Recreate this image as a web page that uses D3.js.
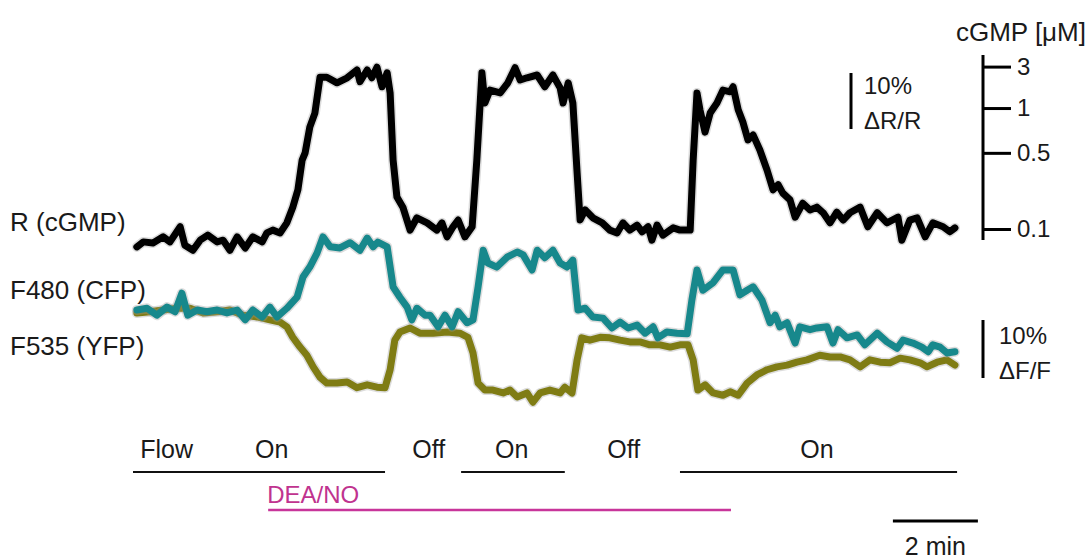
<!DOCTYPE html>
<html>
<head>
<meta charset="utf-8">
<script src="https://cdn.jsdelivr.net/npm/d3@7"></script>
<style>
  html, body { margin: 0; padding: 0; background: #fff; }
  svg { display: block; }
  text { font-family: "Liberation Sans", Arial, Helvetica, sans-serif; fill: #1a1a1a; }
</style>
</head>
<body>
<svg id="chart" width="1091" height="559"></svg>
<script>
// Time in minutes, ratio change ΔR/R in percent
const rTrace = [
  [0.09,-0.7],[0.24,0.2],[0.47,0.0],[0.71,1.1],[0.87,0.2],[1.11,2.9],[1.22,-0.4],[1.41,-1.3],
  [1.58,0.5],[1.76,1.4],[1.98,0.2],[2.12,0.5],[2.28,-1.3],[2.45,1.1],[2.64,-0.9],[2.82,1.1],
  [3.04,0.2],[3.15,1.8],[3.29,2.3],[3.46,1.8],[3.62,3.6],[3.76,6.4],[3.88,9.5],[3.98,14.8],
  [4.05,16.1],[4.16,20.7],[4.28,23.2],[4.40,29.6],[4.56,29.6],[4.80,28.6],[5.04,29.5],[5.27,30.9],
  [5.34,28.8],[5.51,30.9],[5.62,29.5],[5.74,31.4],[5.86,27.9],[5.98,30.4],[6.05,26.8],[6.12,14.8],
  [6.21,8.2],[6.35,6.4],[6.52,2.3],[6.68,4.5],[6.92,3.6],[7.15,2.3],[7.27,3.6],[7.39,1.1],
  [7.53,2.9],[7.65,4.1],[7.81,1.1],[7.98,2.9],[8.09,14.8],[8.21,30.4],[8.28,25.0],[8.40,27.3],
  [8.64,26.8],[8.82,28.6],[8.99,31.3],[9.11,29.1],[9.27,29.5],[9.51,30.0],[9.69,27.9],[9.88,30.0],
  [10.05,27.7],[10.12,25.0],[10.24,28.6],[10.35,25.0],[10.45,12.5],[10.52,4.1],[10.64,5.9],[10.82,4.5],
  [11.04,3.6],[11.22,2.3],[11.39,1.8],[11.53,3.6],[11.69,2.3],[11.86,3.2],[11.98,2.0],[12.12,2.9],
  [12.21,0.5],[12.33,3.2],[12.47,1.4],[12.71,2.7],[12.87,2.3],[13.11,2.3],[13.18,14.8],[13.27,26.8],
  [13.34,23.8],[13.46,19.8],[13.58,23.2],[13.74,25.0],[13.88,27.3],[14.05,27.0],[14.12,27.9],[14.24,23.8],
  [14.35,21.6],[14.47,18.4],[14.59,19.3],[14.75,16.6],[14.92,13.0],[15.06,9.5],[15.18,10.4],[15.29,8.9],
  [15.46,7.7],[15.58,4.6],[15.76,7.1],[15.93,5.9],[16.09,6.4],[16.24,5.4],[16.40,3.6],[16.56,5.5],
  [16.71,4.1],[16.87,5.4],[17.11,6.4],[17.29,2.9],[17.51,5.4],[17.74,3.6],[18.00,4.6],[18.09,0.5],
  [18.28,4.1],[18.45,4.5],[18.64,1.1],[18.82,3.6],[19.06,2.9],[19.22,2.0],[19.34,2.7]
];

// CFP emission (480 nm), ΔF/F in percent
const cfpTrace = [
  [0.09,0.0],[0.33,0.3],[0.56,-0.9],[0.80,0.5],[0.99,-0.3],[1.15,2.9],[1.29,-0.9],[1.51,0.0],
  [1.74,-0.3],[1.98,0.0],[2.21,-0.5],[2.45,0.0],[2.64,-1.7],[2.82,0.0],[3.04,-1.2],[3.22,0.5],
  [3.39,-1.2],[3.62,0.3],[3.86,2.2],[4.00,5.7],[4.16,7.4],[4.33,9.8],[4.47,12.6],[4.64,10.9],
  [4.87,10.7],[5.11,11.6],[5.34,10.3],[5.51,12.4],[5.65,10.9],[5.76,11.7],[5.98,10.9],[6.12,4.0],
  [6.28,2.2],[6.45,0.5],[6.56,-1.7],[6.68,0.3],[6.87,-0.9],[6.99,-0.9],[7.18,-2.9],[7.34,-0.9],
  [7.51,-2.9],[7.65,-0.3],[7.86,-2.2],[8.00,-1.7],[8.12,4.0],[8.24,10.3],[8.35,8.1],[8.56,7.4],
  [8.80,9.1],[9.04,10.0],[9.18,9.5],[9.39,6.9],[9.51,10.3],[9.69,9.0],[9.88,10.3],[10.05,8.1],
  [10.21,7.4],[10.35,8.6],[10.47,0.0],[10.64,0.3],[10.82,-1.2],[11.06,-1.4],[11.27,-3.1],[11.46,-2.1],
  [11.65,-3.1],[11.86,-2.6],[12.05,-4.0],[12.24,-2.9],[12.35,-4.8],[12.56,-3.8],[12.80,-4.0],[13.04,-4.1],
  [13.15,1.7],[13.27,6.9],[13.41,3.4],[13.65,4.7],[13.88,6.9],[14.12,6.9],[14.28,2.6],[14.45,3.4],
  [14.59,4.0],[14.80,1.7],[14.99,-2.2],[15.11,-0.9],[15.22,-2.9],[15.39,-2.2],[15.58,-5.7],[15.69,-2.9],
  [15.93,-3.4],[16.09,-3.1],[16.33,-2.9],[16.47,-5.7],[16.59,-3.4],[16.80,-4.8],[17.04,-4.3],[17.22,-6.0],
  [17.51,-4.0],[17.74,-5.5],[17.98,-6.6],[18.12,-5.2],[18.35,-5.7],[18.56,-6.4],[18.71,-7.2],[18.82,-6.0],
  [18.99,-6.4],[19.15,-7.4],[19.34,-7.2]
];

// YFP emission (535 nm), ΔF/F in percent
const yfpTrace = [
  [0.09,-0.5],[0.40,-0.3],[0.71,0.0],[1.04,0.3],[1.34,0.3],[1.65,-0.5],[1.98,-0.3],[2.28,0.0],
  [2.59,-0.9],[2.92,-1.2],[3.22,-1.7],[3.46,-2.1],[3.62,-2.9],[3.76,-4.7],[3.93,-6.4],[4.09,-7.8],
  [4.24,-9.8],[4.40,-11.6],[4.56,-12.6],[4.80,-12.6],[5.04,-12.4],[5.27,-13.4],[5.51,-12.9],[5.74,-13.3],
  [5.93,-13.4],[6.05,-10.3],[6.16,-5.2],[6.28,-3.8],[6.52,-3.1],[6.75,-4.0],[7.06,-4.0],[7.39,-3.8],
  [7.69,-4.0],[7.88,-4.7],[8.00,-7.4],[8.12,-12.6],[8.28,-13.8],[8.47,-13.8],[8.71,-14.3],[8.87,-13.8],
  [9.04,-15.0],[9.27,-14.3],[9.41,-15.9],[9.58,-14.3],[9.81,-13.8],[10.05,-14.3],[10.16,-13.3],[10.33,-14.3],
  [10.45,-8.6],[10.56,-4.8],[10.75,-5.2],[10.99,-4.7],[11.22,-4.8],[11.46,-5.2],[11.69,-5.5],[11.93,-5.5],
  [12.16,-6.0],[12.40,-6.0],[12.64,-6.4],[12.87,-6.0],[13.06,-6.0],[13.18,-8.6],[13.29,-13.8],[13.46,-12.9],
  [13.65,-14.3],[13.88,-14.7],[14.05,-14.1],[14.24,-14.7],[14.45,-12.6],[14.68,-11.2],[14.92,-10.3],[15.15,-9.8],
  [15.39,-9.5],[15.62,-9.0],[15.86,-8.6],[16.16,-7.8],[16.40,-8.1],[16.64,-8.1],[16.87,-8.6],[17.11,-9.8],
  [17.34,-8.6],[17.58,-9.0],[17.81,-9.1],[18.05,-8.3],[18.28,-8.6],[18.52,-9.1],[18.68,-9.8],[18.92,-9.0],
  [19.15,-8.6],[19.34,-9.5]
];

// Perfusion protocol (minutes)
const flowSegments = [[0, 5.93], [7.72, 10.16], [12.87, 19.39]];
const flowLabels = [
  { text: "Flow", t: 0.17 },
  { text: "On", t: 2.87 },
  { text: "Off", t: 6.57 },
  { text: "On", t: 8.52 },
  { text: "Off", t: 11.16 },
  { text: "On", t: 15.7 }
];
const deaSegment = [3.18, 14.07];

// cGMP calibration for the ratio trace
const cgmpTicks = [3, 1, 0.5, 0.1];
const cgmpRatio = [31.5, 24.1, 16.1, 2.5];   // ΔR/R (%) at each concentration

const traceLabels = ["R (cGMP)", "F480 (CFP)", "F535 (YFP)"];

const svg = d3.select("#chart");

const x = d3.scaleLinear().domain([0, 20]).range([133, 983]);
const yR = d3.scaleLinear().domain([0, 10]).range([243, 187]);
const yF = d3.scaleLinear().domain([0, 10]).range([310, 252]);

const lineR = d3.line().x(d => x(d[0])).y(d => yR(d[1]));
const lineF = d3.line().x(d => x(d[0])).y(d => yF(d[1]));

function drawTrace(data, line, color) {
  // faint band around each trace
  svg.append("path").datum(data).attr("d", line)
    .attr("fill", "none").attr("stroke", "#9a9a9a").attr("stroke-opacity", 0.35)
    .attr("stroke-width", 10).attr("stroke-linejoin", "round").attr("stroke-linecap", "round");
  svg.append("path").datum(data).attr("d", line)
    .attr("fill", "none").attr("stroke", color)
    .attr("stroke-width", 7).attr("stroke-linejoin", "round").attr("stroke-linecap", "round");
}

drawTrace(yfpTrace, lineF, "#7f7c14");
drawTrace(cfpTrace, lineF, "#17888c");
drawTrace(rTrace, lineR, "#000");

// Trace names
const labelY = [231, 299, 355];
svg.selectAll("text.trace").data(traceLabels).join("text")
  .attr("class", "trace")
  .attr("x", 10).attr("y", (d, i) => labelY[i])
  .attr("font-size", 26).text(d => d);

// cGMP axis on the right
const cg = d3.scaleLinear().domain(cgmpTicks.slice().reverse())
  .range(cgmpRatio.slice().reverse().map(v => yR(v)));
const axisG = svg.append("g").attr("transform", "translate(983,0)");
axisG.call(d3.axisRight(cg).tickValues(cgmpTicks).tickSize(28).tickPadding(6)
  .tickFormat(d => String(d)));
axisG.select(".domain").remove();
axisG.selectAll(".tick line").attr("stroke", "#000").attr("stroke-width", 3);
axisG.selectAll(".tick text").attr("font-size", 24)
  .attr("font-family", "Liberation Sans, Arial, sans-serif").attr("fill", "#1a1a1a");
axisG.append("line").attr("x1", 0).attr("x2", 0).attr("y1", 55).attr("y2", 240)
  .attr("stroke", "#000").attr("stroke-width", 3);
svg.append("text").attr("x", 1086).attr("y", 41).attr("text-anchor", "end")
  .attr("font-size", 26).text("cGMP [\u03BCM]");

// 10% ΔR/R scale bar
const rBarTop = 73;
svg.append("line").attr("x1", 851).attr("x2", 851)
  .attr("y1", rBarTop).attr("y2", rBarTop + (yR(0) - yR(10)))
  .attr("stroke", "#000").attr("stroke-width", 3);
svg.append("text").attr("x", 864).attr("y", 94).attr("font-size", 24).text("10%");
svg.append("text").attr("x", 864).attr("y", 129).attr("font-size", 24).text("\u0394R/R");

// 10% ΔF/F scale bar
const fBarTop = 320;
svg.append("line").attr("x1", 983).attr("x2", 983)
  .attr("y1", fBarTop).attr("y2", fBarTop + (yF(0) - yF(10)))
  .attr("stroke", "#000").attr("stroke-width", 3);
svg.append("text").attr("x", 999).attr("y", 344).attr("font-size", 24).text("10%");
svg.append("text").attr("x", 999).attr("y", 379).attr("font-size", 24).text("\u0394F/F");

// Perfusion protocol
svg.selectAll("line.flow").data(flowSegments).join("line")
  .attr("class", "flow")
  .attr("x1", d => x(d[0])).attr("x2", d => x(d[1]))
  .attr("y1", 472).attr("y2", 472)
  .attr("stroke", "#111").attr("stroke-width", 2);
svg.selectAll("text.flow").data(flowLabels).join("text")
  .attr("class", "flow")
  .attr("x", d => x(d.t)).attr("y", 458)
  .attr("font-size", 25).text(d => d.text);

svg.append("line")
  .attr("x1", x(deaSegment[0])).attr("x2", x(deaSegment[1]))
  .attr("y1", 510).attr("y2", 510)
  .attr("stroke", "#c8359a").attr("stroke-width", 2.5);
svg.append("text").attr("x", x(deaSegment[0]) - 1).attr("y", 503)
  .attr("font-size", 24).style("fill", "#c0338f").text("DEA/NO");

// 2 min time bar
svg.append("line").attr("x1", x(17.88)).attr("x2", x(19.88))
  .attr("y1", 521).attr("y2", 521)
  .attr("stroke", "#000").attr("stroke-width", 3);
svg.append("text").attr("x", x(18.88)).attr("y", 555).attr("text-anchor", "middle")
  .attr("font-size", 25).text("2 min");
</script>
</body>
</html>
